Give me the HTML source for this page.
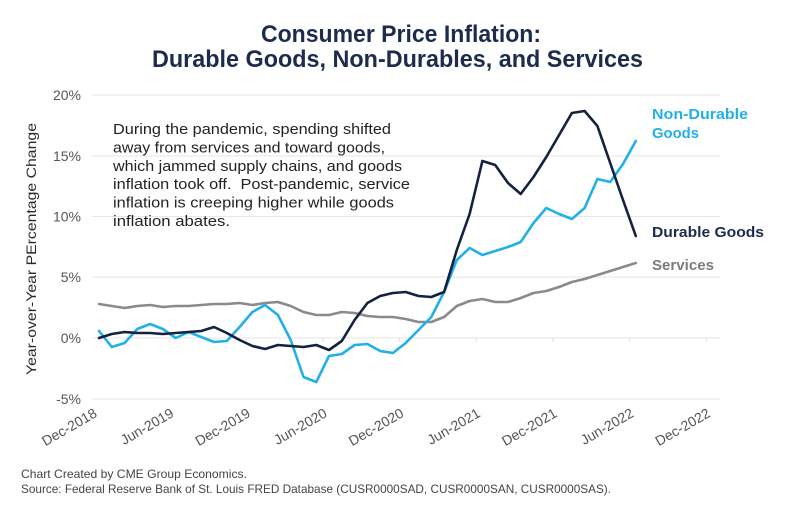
<!DOCTYPE html>
<html>
<head>
<meta charset="utf-8">
<style>
  html, body { margin: 0; padding: 0; background: #ffffff; }
  svg { display: block; }
  text { font-family: "Liberation Sans", "DejaVu Sans", sans-serif; }
</style>
</head>
<body>
<svg width="800" height="511" viewBox="0 0 800 511" xmlns="http://www.w3.org/2000/svg">
  <rect x="0" y="0" width="800" height="511" fill="#ffffff"/>

  <!-- Title -->
  <text x="261" y="42" font-size="24" font-weight="bold" fill="#1d2c4c" textLength="280" lengthAdjust="spacingAndGlyphs">Consumer Price Inflation:</text>
  <text x="152" y="67" font-size="24" font-weight="bold" fill="#1d2c4c" textLength="491" lengthAdjust="spacingAndGlyphs">Durable Goods, Non-Durables, and Services</text>

  <!-- Gridlines -->
  <g stroke="#e6e6e6" stroke-width="1">
    <line x1="92" y1="95" x2="720" y2="95"/>
    <line x1="92" y1="156" x2="720" y2="156"/>
    <line x1="92" y1="216.5" x2="720" y2="216.5"/>
    <line x1="92" y1="277" x2="720" y2="277"/>
    <line x1="92" y1="338" x2="720" y2="338"/>
    <line x1="92" y1="399" x2="720" y2="399"/>
  </g>
  <!-- small ticks on zero line -->
  <g stroke="#e0e0e0" stroke-width="1">
    <line x1="169.7" y1="338" x2="169.7" y2="342"/>
    <line x1="246.3" y1="338" x2="246.3" y2="342"/>
    <line x1="323" y1="338" x2="323" y2="342"/>
    <line x1="399.7" y1="338" x2="399.7" y2="342"/>
    <line x1="476.3" y1="338" x2="476.3" y2="342"/>
    <line x1="553" y1="338" x2="553" y2="342"/>
    <line x1="629.7" y1="338" x2="629.7" y2="342"/>
    <line x1="706.3" y1="338" x2="706.3" y2="342"/>
  </g>

  <!-- Y tick labels -->
  <g font-size="14" fill="#555555" text-anchor="end">
    <text x="81" y="100">20%</text>
    <text x="81" y="161">15%</text>
    <text x="81" y="221.5">10%</text>
    <text x="81" y="282">5%</text>
    <text x="81" y="343">0%</text>
    <text x="81" y="404">-5%</text>
  </g>

  <!-- Y axis title -->
  <text transform="translate(36,249) rotate(-90)" text-anchor="middle" font-size="14" fill="#2a2a2a" textLength="252" lengthAdjust="spacingAndGlyphs">Year-over-Year PErcentage Change</text>

  <!-- X tick labels -->
  <g font-size="14" fill="#555555" text-anchor="end">
    <text transform="translate(98,416) rotate(-30)">Dec-2018</text>
    <text transform="translate(174.7,416) rotate(-30)">Jun-2019</text>
    <text transform="translate(251.3,416) rotate(-30)">Dec-2019</text>
    <text transform="translate(328,416) rotate(-30)">Jun-2020</text>
    <text transform="translate(404.7,416) rotate(-30)">Dec-2020</text>
    <text transform="translate(481.3,416) rotate(-30)">Jun-2021</text>
    <text transform="translate(558,416) rotate(-30)">Dec-2021</text>
    <text transform="translate(634.7,416) rotate(-30)">Jun-2022</text>
    <text transform="translate(711.3,416) rotate(-30)">Dec-2022</text>
  </g>

  <!-- Annotation -->
  <g font-size="15" fill="#222222">
    <text x="113" y="134" textLength="278" lengthAdjust="spacingAndGlyphs">During the pandemic, spending shifted</text>
    <text x="113" y="152.5" textLength="272" lengthAdjust="spacingAndGlyphs">away from services and toward goods,</text>
    <text x="113" y="171" textLength="289" lengthAdjust="spacingAndGlyphs">which jammed supply chains, and goods</text>
    <text x="113" y="189" textLength="297" lengthAdjust="spacingAndGlyphs" xml:space="preserve">inflation took off.  Post-pandemic, service</text>
    <text x="113" y="207.5" textLength="281" lengthAdjust="spacingAndGlyphs">inflation is creeping higher while goods</text>
    <text x="113" y="226" textLength="117" lengthAdjust="spacingAndGlyphs">inflation abates.</text>
  </g>

  <!-- Series -->
  <g fill="none" stroke-width="2.6" stroke-linejoin="round" stroke-linecap="round">
    <polyline stroke="#8a8a8a" points="99.0,304 111.8,306 124.6,308 137.3,306 150.1,305 162.9,307 175.7,306 188.5,306 201.2,305 214.0,304 226.8,304 239.6,303 252.4,305 265.1,303 277.9,302 290.7,306 303.5,312 316.3,315 329.0,315 341.8,312 354.6,313 367.4,316 380.2,317 392.9,317 405.7,319 418.5,322 431.3,322 444.1,317 456.8,306 469.6,301 482.4,299 495.2,302 508.0,302 520.7,298 533.5,293 546.3,291 559.1,287 571.9,282 584.6,279 597.4,275 610.2,271 623.0,267 635.8,263"/>
    <polyline stroke="#22b0e6" points="99.0,331 111.8,347 124.6,343 137.3,329 150.1,324 162.9,329 175.7,338 188.5,332 201.2,337 214.0,342 226.8,341 239.6,327 252.4,312 265.1,305 277.9,315 290.7,340 303.5,377 316.3,382 329.0,356 341.8,354 354.6,345 367.4,344 380.2,351 392.9,353 405.7,343 418.5,330 431.3,317 444.1,292 456.8,260 469.6,248 482.4,255 495.2,251 508.0,247 520.7,242 533.5,223 546.3,208 559.1,214 571.9,219 584.6,208 597.4,179 610.2,182 623.0,164 635.8,141"/>
    <polyline stroke="#15223f" points="99.0,338 111.8,334 124.6,332 137.3,333 150.1,333 162.9,334 175.7,333 188.5,332 201.2,331 214.0,327 226.8,333 239.6,340 252.4,346 265.1,349 277.9,345 290.7,346 303.5,347 316.3,345 329.0,350 341.8,341 354.6,320 367.4,303 380.2,296 392.9,293 405.7,292 418.5,296 431.3,297 444.1,292 456.8,250 469.6,214 482.4,161 495.2,165 508.0,183 520.7,194 533.5,177 546.3,157 559.1,135 571.9,113 584.6,111 597.4,126 610.2,163 623.0,200 635.8,236"/>
  </g>

  <!-- Series labels -->
  <g font-size="15" font-weight="bold">
    <text x="652" y="119" fill="#22b0e6" textLength="96" lengthAdjust="spacingAndGlyphs">Non-Durable</text>
    <text x="652" y="138" fill="#22b0e6" textLength="47" lengthAdjust="spacingAndGlyphs">Goods</text>
    <text x="652" y="237" fill="#1d2b4d" textLength="112" lengthAdjust="spacingAndGlyphs">Durable Goods</text>
    <text x="652" y="270" fill="#7c7c7c" textLength="62" lengthAdjust="spacingAndGlyphs">Services</text>
  </g>

  <!-- Footer -->
  <g font-size="12" fill="#444444">
    <text x="21" y="478" textLength="226" lengthAdjust="spacingAndGlyphs">Chart Created by CME Group Economics.</text>
    <text x="21" y="493" textLength="590" lengthAdjust="spacingAndGlyphs">Source: Federal Reserve Bank of St. Louis FRED Database (CUSR0000SAD, CUSR0000SAN, CUSR0000SAS).</text>
  </g>
</svg>
</body>
</html>
